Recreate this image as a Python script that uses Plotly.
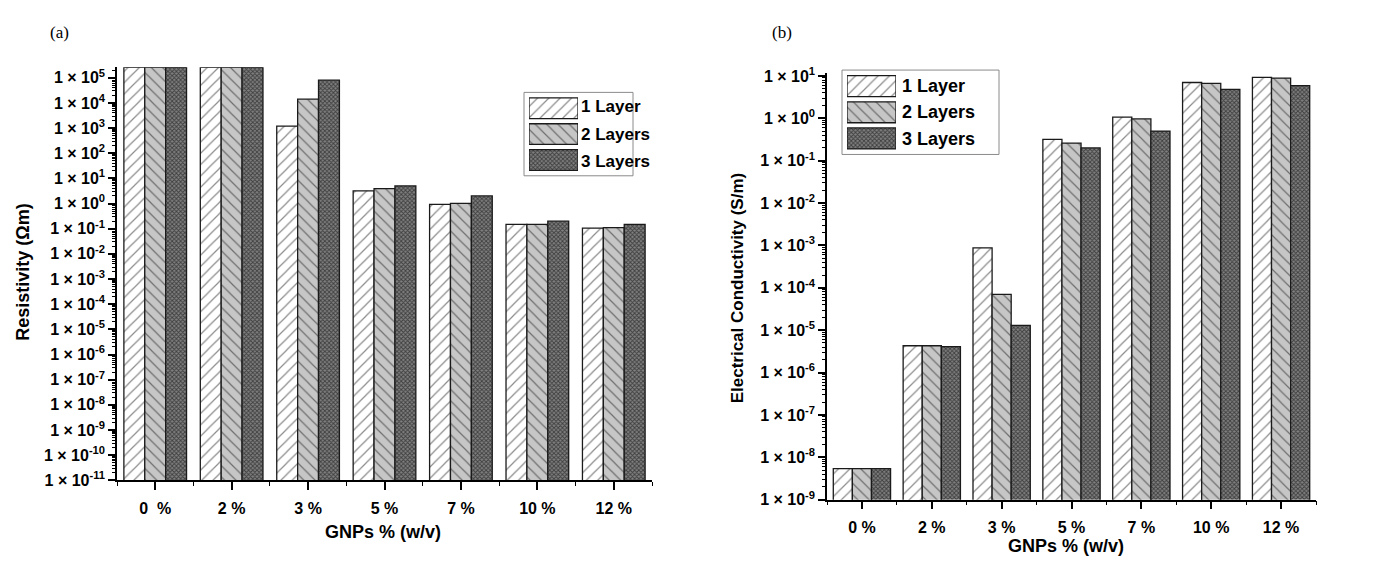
import plotly.graph_objects as go

# ---- data -------------------------------------------------------------
categories_a = ["0\u00a0\u00a0%", "2 %", "3 %", "5 %", "7 %", "10 %", "12 %"]
categories_b = ["0 %", "2 %", "3 %", "5 %", "7 %", "10 %", "12 %"]
series_names = ["1 Layer", "2 Layers", "3 Layers"]

# Resistivity (Ohm m); the 0 % and 2 % samples are off the top of the scale
resistivity_1 = [2.6e5, 2.6e5, 1.2e3, 3.2, 0.93, 0.15, 0.105]
resistivity_2 = [2.6e5, 2.6e5, 1.4e4, 3.9, 1.02, 0.15, 0.11]
resistivity_3 = [2.6e5, 2.6e5, 8.0e4, 5.0, 2.0, 0.20, 0.15]

# Electrical conductivity (S/m)
conductivity_1 = [5.4e-9, 4.3e-6, 8.8e-4, 0.32, 1.07, 7.0, 9.3]
conductivity_2 = [5.4e-9, 4.3e-6, 7.0e-5, 0.26, 0.97, 6.7, 8.9]
conductivity_3 = [5.4e-9, 4.1e-6, 1.3e-5, 0.20, 0.50, 4.8, 5.9]

exp_a = list(range(-11, 6))
exp_b = list(range(-9, 2))

# ---- styling ------------------------------------------------------------
W, H = 1375, 565
FONT = "Liberation Sans, Arial, sans-serif"
STYLES = [
    dict(fillmode="replace", bgcolor="#ffffff", fgcolor="#8c8c8c", shape="/", size=8, solidity=0.15),
    dict(fillmode="replace", bgcolor="#c6c6c6", fgcolor="#6e6e6e", shape="\\", size=8, solidity=0.15),
    dict(fillmode="replace", bgcolor="#808080", fgcolor="#3e3e3e", shape="x", size=3, solidity=0.5),
]
OUTLINE = dict(color="#1a1a1a", width=1.3)


def px(x):
    return x / W


def py(y):
    return 1 - y / H


def minor_log_ticks(exps):
    return [k * 10.0 ** e for e in exps for k in range(2, 10)]


fig = go.Figure()

groups = [
    ("x", "y", [resistivity_1, resistivity_2, resistivity_3]),
    ("x2", "y2", [conductivity_1, conductivity_2, conductivity_3]),
]
positions = list(range(len(categories_b)))
for xa, ya, series in groups:
    for name, vals, st in zip(series_names, series, STYLES):
        fig.add_trace(go.Bar(
            x=positions, y=vals, name=name, xaxis=xa, yaxis=ya,
            marker=dict(color=st["bgcolor"], pattern=st, line=OUTLINE),
            showlegend=False,
        ))

# legend swatches, drawn as short horizontal bars in two small axes
for xa, ya in (("x3", "y3"), ("x4", "y4")):
    for name, st in zip(series_names, STYLES):
        fig.add_trace(go.Bar(
            y=[name], x=[1], orientation="h", xaxis=xa, yaxis=ya,
            marker=dict(color=st["bgcolor"], pattern=st, line=OUTLINE),
            showlegend=False, width=0.8,
        ))

tick_font = dict(family=FONT, size=16, color="black", weight="bold")
x_common = dict(
    tickmode="array", tickvals=positions, range=[-0.5, 6.5],
    showline=True, linecolor="black", linewidth=1.5,
    ticks="outside", ticklen=8, tickwidth=1.5, tickcolor="black",
    minor=dict(tick0=0.5, dtick=1, ticks="outside", ticklen=4, tickwidth=1.3, tickcolor="black"),
    showgrid=False, zeroline=False, tickfont=tick_font,
)
y_common = dict(
    type="log", tickmode="array",
    showline=True, linecolor="black", linewidth=1.5,
    ticks="outside", ticklen=7, tickwidth=1.8, tickcolor="black",
    showgrid=False, zeroline=False, tickfont=tick_font,
)

fig.update_layout(
    width=W, height=H, margin=dict(l=0, r=0, t=0, b=0),
    paper_bgcolor="white", plot_bgcolor="white",
    barmode="group", bargap=0.18, bargroupgap=0,
    showlegend=False,
    xaxis=dict(domain=[px(117), px(652)], anchor="y", ticktext=categories_a,
               ticklabelstandoff=5, **x_common),
    yaxis=dict(domain=[py(487), py(61)], anchor="x", range=[-11, 5.42],
               tickvals=[10.0 ** e for e in exp_a],
               ticktext=[f"1 × 10<sup>{e}</sup>" for e in exp_a],
               minor=dict(tickmode="array", tickvals=minor_log_ticks(exp_a), ticks="outside",
                          ticklen=3, tickwidth=1, tickcolor="black", showgrid=False),
               **y_common),
    xaxis2=dict(domain=[px(827), px(1316)], anchor="y2", ticktext=categories_b,
                ticklabelstandoff=4, **x_common),
    yaxis2=dict(domain=[py(507), py(67)], anchor="x2", range=[-9, 1.07],
                tickvals=[10.0 ** e for e in exp_b],
                ticktext=[f"1 × 10<sup>{e}</sup>" for e in exp_b],
                minor=dict(tickmode="array", tickvals=minor_log_ticks(exp_b), ticks="outside",
                           ticklen=3, tickwidth=1, tickcolor="black", showgrid=False),
                **y_common),
    xaxis3=dict(domain=[px(529), px(578)], anchor="y3", range=[0, 1], visible=False),
    yaxis3=dict(domain=[py(170), py(90)], anchor="x3", autorange="reversed", visible=False),
    xaxis4=dict(domain=[px(847), px(896)], anchor="y4", range=[0, 1], visible=False),
    yaxis4=dict(domain=[py(148), py(67)], anchor="x4", autorange="reversed", visible=False),
)

# legend frames
fig.add_shape(type="rect", xref="paper", yref="paper",
              x0=px(524), x1=px(633), y0=py(173), y1=py(87),
              line=dict(color="#8a8a8a", width=1), fillcolor="rgba(0,0,0,0)", layer="below")
fig.add_shape(type="rect", xref="paper", yref="paper",
              x0=px(842), x1=px(999), y0=py(151), y1=py(64),
              line=dict(color="#8a8a8a", width=1), fillcolor="rgba(0,0,0,0)", layer="below")

ann = []
legend_rows_a = [102, 130, 158]
legend_rows_b = [80, 107.5, 135.5]
for name, ya, yb in zip(series_names, legend_rows_a, legend_rows_b):
    ann.append(dict(x=px(579), y=py(ya), text=name, xanchor="left", yanchor="middle",
                    font=dict(family=FONT, size=17, color="black", weight="bold")))
    ann.append(dict(x=px(900), y=py(yb), text=name, xanchor="left", yanchor="middle",
                    font=dict(family=FONT, size=18, color="black", weight="bold")))

title_font = dict(family=FONT, size=18, color="black", weight="bold")
ann += [
    dict(x=px(23), y=py(273), text="Resistivity (Ωm)", textangle=-90,
         xanchor="center", yanchor="middle", font=title_font),
    dict(x=px(383), y=py(540), text="GNPs % (w/v)", xanchor="center", yanchor="middle", font=title_font),
    dict(x=px(737), y=py(289), text="Electrical Conductivity (S/m)", textangle=-90,
         xanchor="center", yanchor="middle", font=dict(family=FONT, size=17, color="black", weight="bold")),
    dict(x=px(1066), y=0, text="GNPs % (w/v)", xanchor="center", yanchor="bottom", yshift=-2,
         font=title_font),
    dict(x=px(48), y=py(25), text="(a)", xanchor="left", yanchor="middle",
         font=dict(family="Liberation Serif, DejaVu Serif, serif", size=17, color="black")),
    dict(x=px(770), y=py(25), text="(b)", xanchor="left", yanchor="middle",
         font=dict(family="Liberation Serif, DejaVu Serif, serif", size=17, color="black")),
]
for a in ann:
    a.update(xref="paper", yref="paper", showarrow=False)
fig.update_layout(annotations=ann)

fig.write_html("out.html")
